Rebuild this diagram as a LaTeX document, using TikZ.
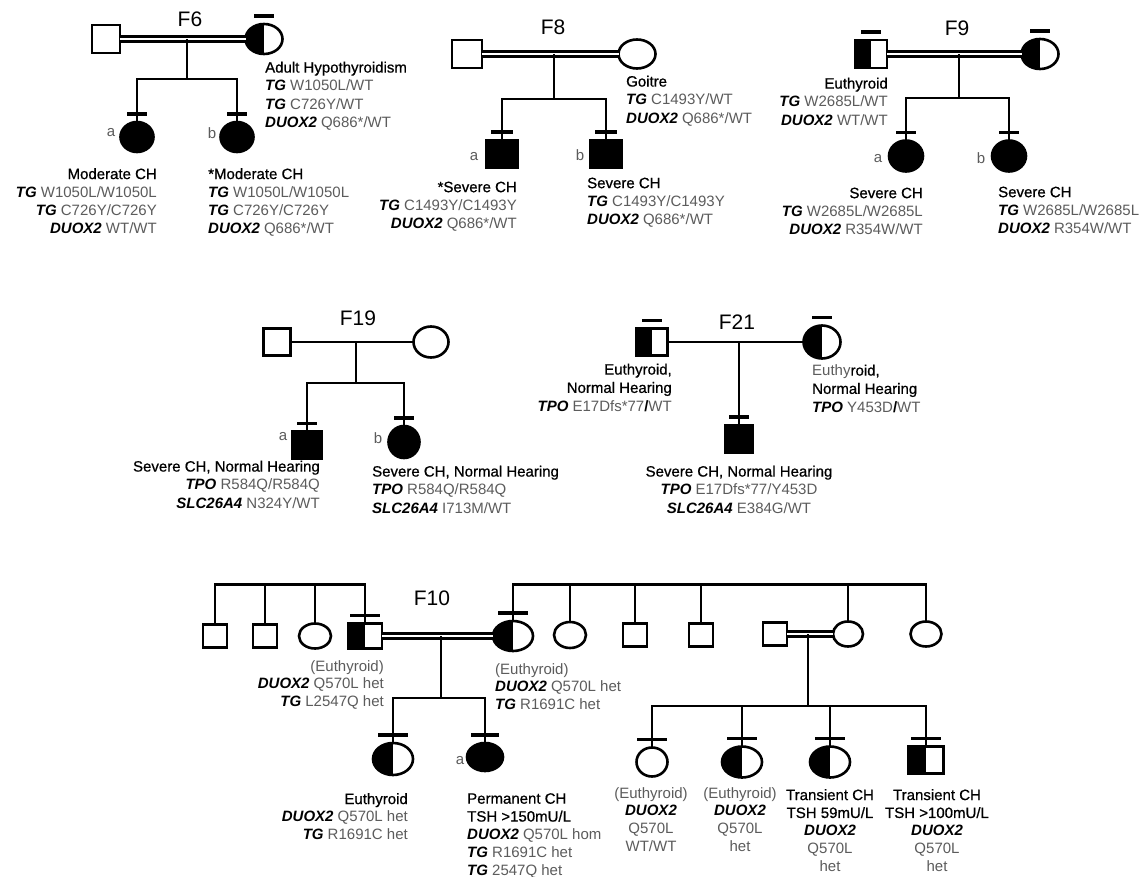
\documentclass[tikz,border=0pt]{standalone}
\usepackage{fontspec}
\setmainfont{Liberation Sans}
\newfontfamily\phfont[FakeBold=0.7]{Liberation Sans}
\usetikzlibrary{shapes.geometric,calc}
\definecolor{val}{gray}{0.36}
\newcommand{\gn}[1]{\textbf{\textit{#1}}}
\newcommand{\vl}[1]{\textcolor{val}{#1}}
\newcommand{\ph}[1]{{\phfont #1}}
\newcommand{\pbar}[2][10]{\draw[brr] ([shift={(-#1pt,8pt)}]#2.north) -- ([shift={(#1pt,8pt)}]#2.north);}
\tikzset{
  ln/.style={line width=2.8pt},
  dbl/.style={double=white, double distance=2.5pt, line width=3pt},
  brr/.style={line width=3.5pt},
  person/.style={draw, line width=2.6pt, inner sep=0pt, outer sep=0pt},
  sq/.style={person, rectangle, minimum width=28pt, minimum height=28pt},
  el/.style={person, ellipse, minimum width=36pt, minimum height=30pt},
  aff/.style={fill=black},
  half/.style={path picture={\fill[black] (path picture bounding box.south west) rectangle (path picture bounding box.north);}},
  ttl/.style={font=\fontsize{21}{24}\selectfont, inner sep=0pt},
  lbl/.style={font=\fontsize{15}{18.3}\selectfont, inner sep=0pt},
  lbs/.style={font=\fontsize{15}{17.9}\selectfont, inner sep=0pt},
  tag/.style={lbl, text=val},
}
\begin{document}
\begin{tikzpicture}[x=1pt,y=-1pt]
\useasboundingbox[fill=white] (0,0) rectangle (1148,877);

%% ---------------- F6
\node[ttl] (f6t) at (190,19) {F6};
\node[sq] (f6f) at (106,39) {};
\node[el,half,minimum width=37pt] (f6m) at (264,39) {};
\draw[dbl] (f6f.east) -- (f6f.east -| f6m.west);
\coordinate (f6d) at (187,39);
\coordinate (f6s) at (187,79);
\node[el,aff,minimum width=33pt] (f6a) at (137,137) {};
\node[el,aff,minimum width=33pt] (f6b) at (237,137) {};
\draw[ln] (f6d) -- (f6s);
\draw[ln] (f6a.north) |- (f6s) -| (f6b.north);
\pbar{f6m}\pbar{f6a}\pbar{f6b}
\node[tag] (f6al) at (111,133) {a};
\node[tag] (f6bl) at (212,133) {b};
\node[lbl,anchor=north west,align=left] (f6mt) at (265,61.5) {\ph{Adult Hypothyroidism}\\\gn{TG} \vl{W1050L/WT}\\\gn{TG} \vl{C726Y/WT}\\\gn{DUOX2} \vl{Q686*/WT}};
\node[lbl,anchor=north east,align=right] (f6at) at (157,168) {\ph{Moderate CH}\\\gn{TG} \vl{W1050L/W1050L}\\\gn{TG} \vl{C726Y/C726Y}\\\gn{DUOX2} \vl{WT/WT}};
\node[lbl,anchor=north west,align=left] (f6bt) at (208,168) {\ph{*Moderate CH}\\\gn{TG} \vl{W1050L/W1050L}\\\gn{TG} \vl{C726Y/C726Y}\\\gn{DUOX2} \vl{Q686*/WT}};

%% ---------------- F8
\node[ttl] (f8t) at (553,27) {F8};
\node[sq,minimum width=30pt] (f8f) at (467,54) {};
\node[el,minimum width=37pt,minimum height=29pt] (f8m) at (637,54) {};
\draw[dbl] (f8f.east) -- (f8f.east -| f8m.west);
\coordinate (f8d) at (554,54);
\coordinate (f8s) at (554,99);
\node[sq,aff,minimum width=31pt] (f8a) at (502,154) {};
\node[sq,aff,minimum width=31pt] (f8b) at (606,154) {};
\draw[ln] (f8d) -- (f8s);
\draw[ln] (f8a.north) |- (f8s) -| (f8b.north);
\pbar[11]{f8a}\pbar[11]{f8b}
\node[tag] (f8al) at (474,157) {a};
\node[tag] (f8bl) at (580,155) {b};
\node[lbl,anchor=north west,align=left] (f8mt) at (626,75.5) {\ph{Goitre}\\\gn{TG} \vl{C1493Y/WT}\\\gn{DUOX2} \vl{Q686*/WT}};
\node[lbl,anchor=north east,align=right] (f8at) at (517,181.5) {\ph{*Severe CH}\\\gn{TG} \vl{C1493Y/C1493Y}\\\gn{DUOX2} \vl{Q686*/WT}};
\node[lbl,anchor=north west,align=left] (f8bt) at (587,177.5) {\ph{Severe CH}\\\gn{TG} \vl{C1493Y/C1493Y}\\\gn{DUOX2} \vl{Q686*/WT}};

%% ---------------- F9
\node[ttl] (f9t) at (957,28) {F9};
\node[sq,half,minimum width=32pt] (f9f) at (871,54) {};
\node[el,half,minimum width=37pt] (f9m) at (1040,54) {};
\draw[dbl] (f9f.east) -- (f9f.east -| f9m.west);
\coordinate (f9d) at (959,54);
\coordinate (f9s) at (959,98);
\node[el,aff,minimum width=34pt,minimum height=31pt] (f9a) at (906,156) {};
\node[el,aff,minimum width=34pt,minimum height=31pt] (f9b) at (1009,156) {};
\draw[ln] (f9d) -- (f9s);
\draw[ln] (f9a.north) |- (f9s) -| (f9b.north);
\pbar{f9f}\pbar{f9m}\pbar{f9a}\pbar{f9b}
\node[tag] (f9al) at (878,159) {a};
\node[tag] (f9bl) at (981,158) {b};
\node[lbl,anchor=north east,align=right] (f9ft) at (888,77.5) {\ph{Euthyroid}\\\gn{TG} \vl{W2685L/WT}\\\gn{DUOX2} \vl{WT/WT}};
\node[lbl,anchor=north east,align=right] (f9at) at (923,187.5) {\ph{Severe CH}\\\gn{TG} \vl{W2685L/W2685L}\\\gn{DUOX2} \vl{R354W/WT}};
\node[lbl,anchor=north west,align=left] (f9bt) at (998,186.5) {\ph{Severe CH}\\\gn{TG} \vl{W2685L/W2685L}\\\gn{DUOX2} \vl{R354W/WT}};

%% ---------------- F19
\node[ttl] (f19t) at (358,318) {F19};
\node[sq,minimum width=27pt,minimum height=27pt] (f19f) at (277,342) {};
\node[el,minimum width=35pt,minimum height=31pt] (f19m) at (431,342) {};
\draw[ln] (f19f.east) -- (f19m.west);
\coordinate (f19d) at (356,342);
\coordinate (f19s) at (356,383);
\node[sq,aff,minimum width=29pt,minimum height=27pt] (f19a) at (307,445) {};
\node[el,aff,minimum width=31pt,minimum height=32pt] (f19b) at (404,442) {};
\draw[ln] (f19d) -- (f19s);
\draw[ln] (f19a.north) |- (f19s) -| (f19b.north);
\pbar{f19a}\pbar{f19b}
\node[tag] (f19al) at (283,437) {a};
\node[tag] (f19bl) at (378,438) {b};
\node[lbl,anchor=north east,align=right] (f19at) at (320,460.5) {\ph{Severe CH, Normal Hearing}\\\gn{TPO} \vl{R584Q/R584Q}\\\gn{SLC26A4} \vl{N324Y/WT}};
\node[lbl,anchor=north west,align=left] (f19bt) at (372,465.5) {\ph{Severe CH, Normal Hearing}\\\gn{TPO} \vl{R584Q/R584Q}\\\gn{SLC26A4} \vl{I713M/WT}};

%% ---------------- F21
\node[ttl] (f21t) at (737,322) {F21};
\node[sq,half,minimum width=31pt,minimum height=27pt] (f21f) at (652,342) {};
\node[el,half,minimum width=37pt,minimum height=33pt] (f21m) at (822,342) {};
\draw[ln] (f21f.east) -- (f21m.west);
\coordinate (f21d) at (739,342);
\node[sq,aff] (f21c) at (739,439) {};
\draw[ln] (f21d) -- (f21c.north);
\pbar{f21f}\pbar{f21m}\pbar{f21c}
\node[lbl,anchor=north east,align=right] (f21ft) at (672,363.5) {\ph{Euthyroid,}\\\ph{Normal Hearing}\\\gn{TPO} \vl{E17Dfs*77}\textbf{/}\vl{WT}};
\node[lbl,anchor=north west,align=left] (f21mt) at (812,364.5) {\vl{Euthy}\ph{roid,}\\\ph{Normal Hearing}\\\gn{TPO} \vl{Y453D}\textbf{/}\vl{WT}};
\node[lbl,anchor=north,align=center] (f21ct) at (739,465.5) {\ph{Severe CH, Normal Hearing}\\\gn{TPO} \vl{E17Dfs*77/Y453D}\\\gn{SLC26A4} \vl{E384G/WT}};

%% ---------------- F10
\node[ttl] (f10t) at (432,598) {F10};
% father's sibship
\node[sq,minimum width=24pt,minimum height=23pt] (p1) at (215,636) {};
\node[sq,minimum width=24pt,minimum height=23pt] (p2) at (265,636) {};
\node[el,minimum width=32pt,minimum height=25pt] (p3) at (315,636) {};
\node[sq,half,minimum width=34pt,minimum height=25pt] (f10f) at (365,636) {};
\coordinate (pt1) at (215,584.5);
\coordinate (pt4) at (365,584.5);
\draw[ln] (p1.north) -- (pt1) -- (pt4) -- (f10f.north);
\draw[ln] (p2.north) -- (p2.north |- pt1);
\draw[ln] (p3.north) -- (p3.north |- pt1);
% mother's sibship
\node[el,half,minimum width=40pt,minimum height=30pt] (f10m) at (513,636) {};
\node[el,minimum width=32pt,minimum height=26pt] (m1) at (570,635) {};
\node[sq,minimum width=24pt,minimum height=23pt] (m2) at (635,635) {};
\node[sq,minimum width=24pt,minimum height=23pt] (m3) at (701,635) {};
\node[el,minimum width=30pt,minimum height=25pt] (m4) at (848,634) {};
\node[el,minimum width=31pt,minimum height=25pt] (m5) at (926,634) {};
\node[sq,minimum width=24pt,minimum height=23pt] (sp) at (775,634) {};
\coordinate (mt1) at (513,584.5);
\coordinate (mt5) at (926,584.5);
\draw[ln] (f10m.north) -- (mt1) -- (mt5) -- (m5.north);
\draw[ln] (m1.north) -- (m1.north |- mt1);
\draw[ln] (m2.north) -- (m2.north |- mt1);
\draw[ln] (m3.north) -- (m3.north |- mt1);
\draw[ln] (m4.north) -- (m4.north |- mt1);
\pbar[15]{f10f}\pbar[15]{f10m}
% main couple
\draw[dbl] (f10f.east) -- (f10f.east -| f10m.west);
\coordinate (f10d) at (441,636);
\coordinate (f10s) at (441,698);
\node[el,half,minimum width=40pt,minimum height=32pt] (k1) at (393,759) {};
\node[el,aff,minimum width=36pt,minimum height=28pt] (k2) at (485,757) {};
\draw[ln] (f10d) -- (f10s);
\draw[ln] (k1.north) |- (f10s) -| (k2.north);
\pbar[15]{k1}\pbar[14]{k2}
\node[tag] (k2l) at (460,761) {a};
\node[lbs,anchor=north east,align=right] (f10ft) at (384,660) {\vl{(Euthyroid)}\\\gn{DUOX2} \vl{Q570L het}\\\gn{TG} \vl{L2547Q het}};
\node[lbs,anchor=north west,align=left] (f10mt) at (495,663) {\vl{(Euthyroid)}\\\gn{DUOX2} \vl{Q570L het}\\\gn{TG} \vl{R1691C het}};
\node[lbs,anchor=north east,align=right] (k1t) at (408,793) {\ph{Euthyroid}\\\gn{DUOX2} \vl{Q570L het}\\\gn{TG} \vl{R1691C het}};
\node[lbs,anchor=north west,align=left] (k2t) at (467,793) {\ph{Permanent CH}\\\ph{TSH >150mU/L}\\\gn{DUOX2} \vl{Q570L hom}\\\gn{TG} \vl{R1691C het}\\\gn{TG} \vl{2547Q het}};
% aunt's family
\draw[dbl] (sp.east) -- (sp.east -| m4.west);
\coordinate (f10e) at (808,634);
\coordinate (f10u) at (808,706);
\node[el,minimum width=31pt,minimum height=29pt] (c1) at (652,762) {};
\node[el,half,minimum width=40pt,minimum height=31pt] (c2) at (742,762) {};
\node[el,half,minimum width=40pt,minimum height=31pt] (c3) at (830,762) {};
\node[sq,half,minimum width=35pt,minimum height=27pt] (c4) at (926,760) {};
\draw[ln] (f10e) -- (f10u);
\draw[ln] (c1.north) |- (f10u) -| (c4.north);
\draw[ln] (c2.north) -- (c2.north |- f10u);
\draw[ln] (c3.north) -- (c3.north |- f10u);
\pbar[15]{c1}\pbar[15]{c2}\pbar[15]{c3}\pbar[15]{c4}
\node[lbs,anchor=north,align=center] (c1t) at (651,787) {\vl{(Euthyroid)}\\\gn{DUOX2}\\\vl{Q570L}\\\vl{WT/WT}};
\node[lbs,anchor=north,align=center] (c2t) at (740,787) {\vl{(Euthyroid)}\\\gn{DUOX2}\\\vl{Q570L}\\\vl{het}};
\node[lbs,anchor=north,align=center] (c3t) at (830,789) {\ph{Transient CH}\\\ph{TSH 59mU/L}\\\gn{DUOX2}\\\vl{Q570L}\\\vl{het}};
\node[lbs,anchor=north,align=center] (c4t) at (937,789) {\ph{Transient CH}\\\ph{TSH >100mU/L}\\\gn{DUOX2}\\\vl{Q570L}\\\vl{het}};
\end{tikzpicture}
\end{document}
